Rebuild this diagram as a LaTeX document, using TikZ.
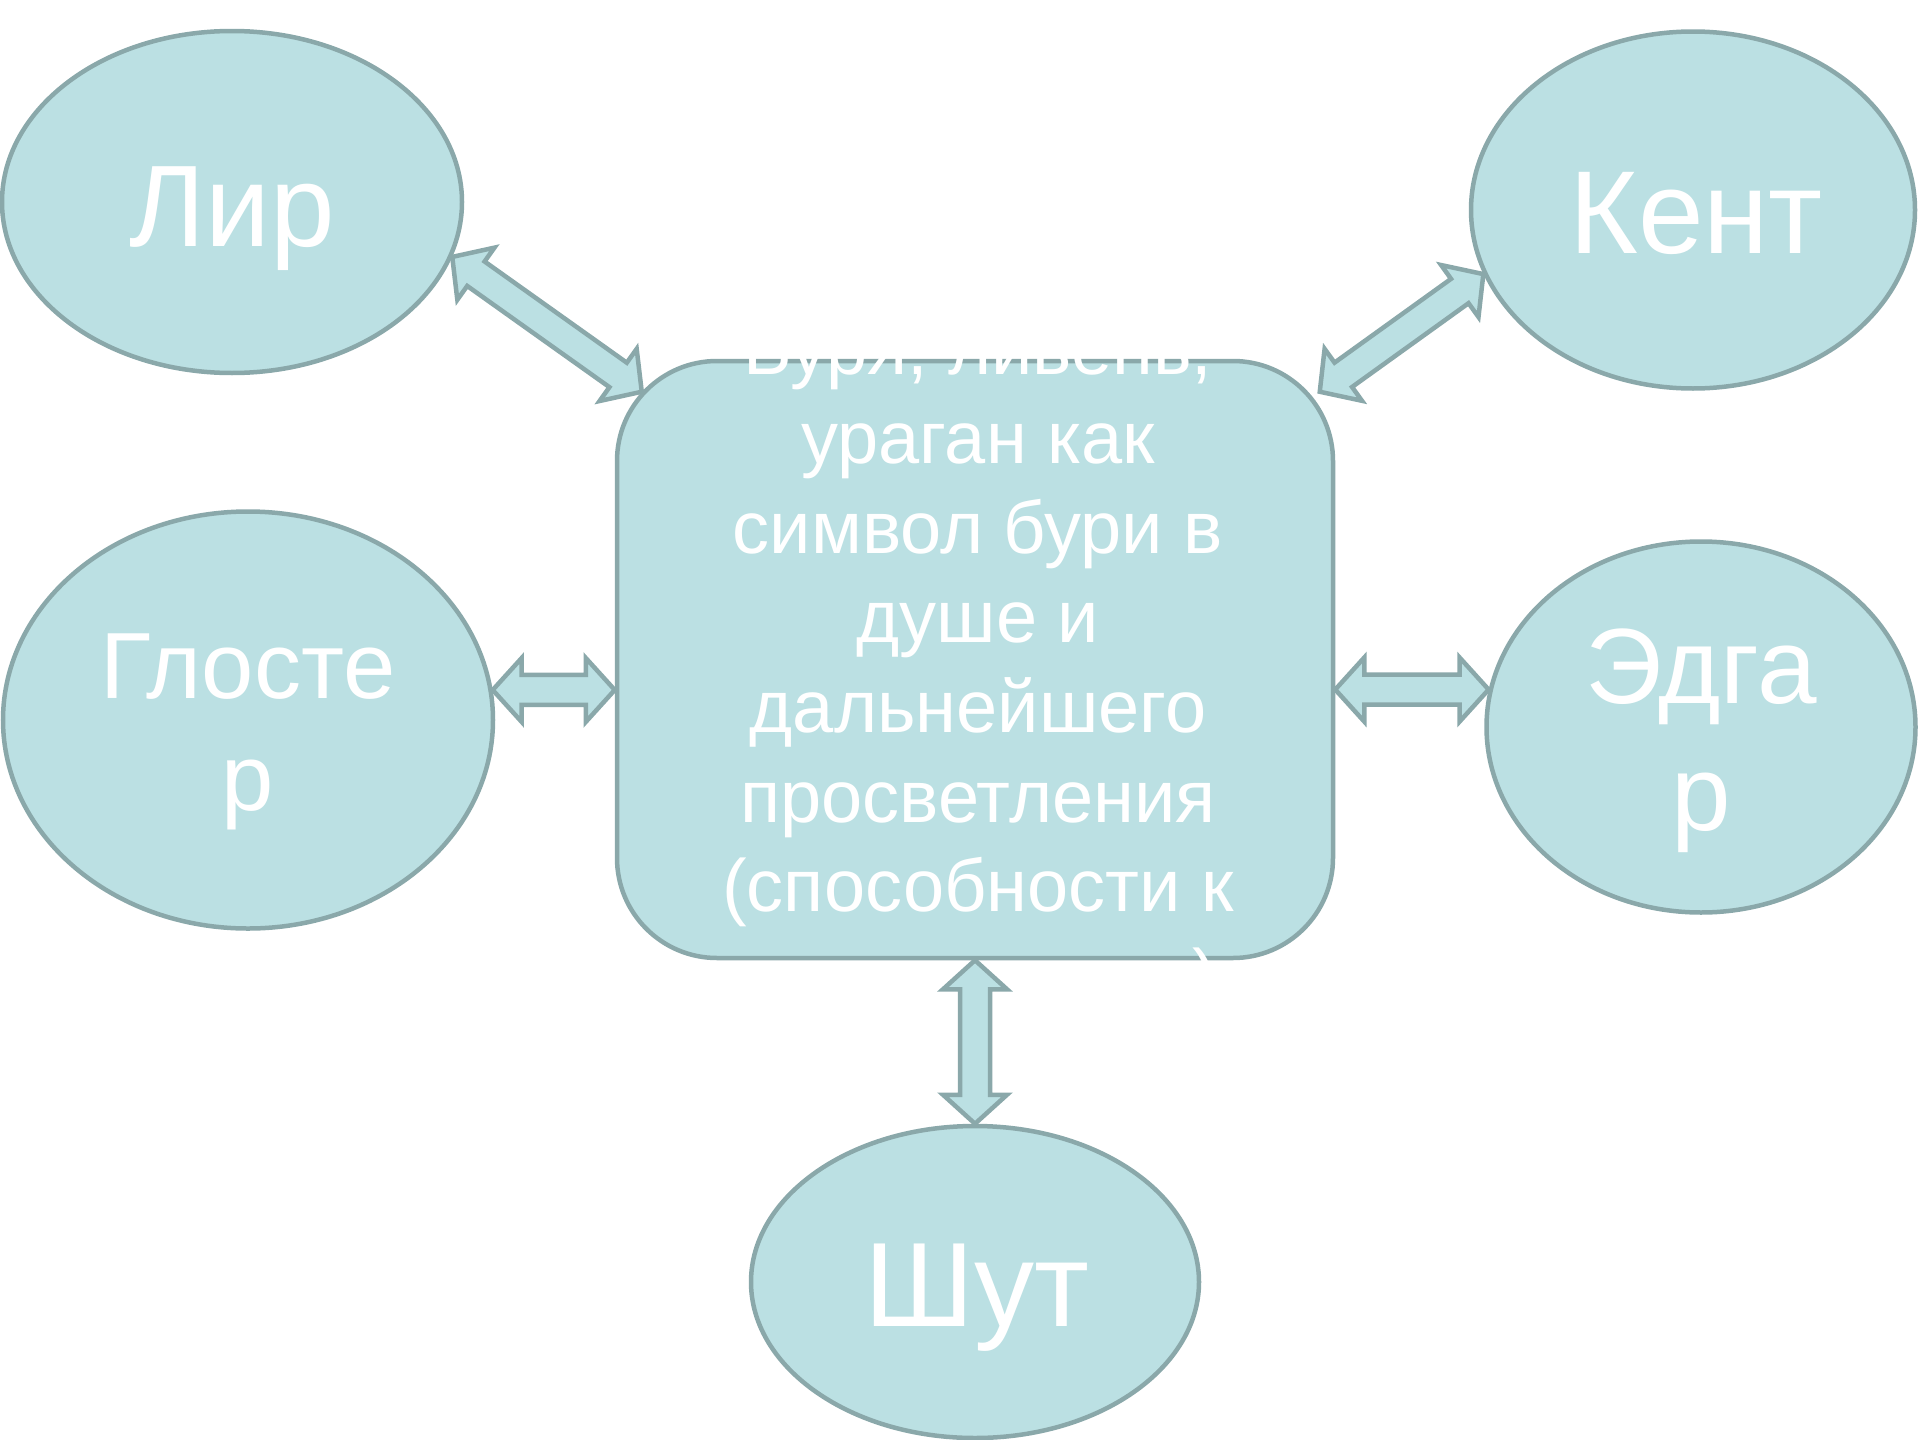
\documentclass[tikz,border=0pt]{standalone}
\usepackage{fontspec}
\setmainfont{Liberation Sans}
\usetikzlibrary{shapes.geometric,calc}
\definecolor{nodefill}{HTML}{BBE0E3}
\definecolor{nodeline}{HTML}{8AA8AA}
\tikzset{
  oval/.style={ellipse, draw=nodeline, fill=nodefill, line width=4.5pt, inner sep=0pt},
  centrebox/.style={rectangle, rounded corners=100pt, draw=nodeline, fill=nodefill, line width=4.5pt, inner sep=0pt},
  barrow/.style={draw=nodeline, fill=nodefill, line width=4.5pt, line join=miter},
  lbl/.style={text=white, inner sep=0pt, anchor=base, align=center},
}
\newcommand\dblarrow[2]{%
  \coordinate (da1) at ($(#1)!29pt!(#2)$);
  \coordinate (da2) at ($(#2)!29pt!(#1)$);
  \draw[barrow] (#1) -- ($(da1)!32pt!90:(#2)$) -- ($(da1)!15pt!90:(#2)$)
    -- ($(da2)!15pt!-90:(#1)$) -- ($(da2)!32pt!-90:(#1)$) -- (#2)
    -- ($(da2)!32pt!90:(#1)$) -- ($(da2)!15pt!90:(#1)$)
    -- ($(da1)!15pt!-90:(#2)$) -- ($(da1)!32pt!-90:(#2)$) -- cycle;
}
\begin{document}
\begin{tikzpicture}[x=1pt,y=-1pt]
\useasboundingbox (0,0) rectangle (1920,1440);
% ovals
\node[oval, minimum width=460pt, minimum height=342pt] (lir) at (232,202) {};
\node[oval, minimum width=444pt, minimum height=357pt] (kent) at (1693,210) {};
\node[oval, minimum width=490pt, minimum height=417pt] (glo) at (248,720) {};
\node[oval, minimum width=429pt, minimum height=371pt] (edg) at (1701,727) {};
\node[oval, minimum width=448pt, minimum height=312pt] (shut) at (975,1282) {};
% centre box
\node[centrebox, minimum width=716pt, minimum height=597pt] (box) at (975,659.5) {};
% texts (base anchor = baseline of the last line)
\node[lbl, font=\fontsize{116}{139}\selectfont] (tlir) at (232,246) {Лир};
\node[lbl, font=\fontsize{118}{141}\selectfont] (tkent) at (1696,253.5) {Кент};
\node[lbl, font=\fontsize{120}{144}\selectfont] (tshut) at (977,1326) {Шут};
\node[lbl, font=\fontsize{94}{112.6}\selectfont] (tglo) at (248,810.6) {Глосте\\р};
\node[lbl, font=\fontsize{107}{127}\selectfont] (tedg) at (1701,830) {Эдга\\р};
\node[lbl, font=\fontsize{74}{89.6}\selectfont] (tbox) at (978,1001.2) {Буря, ливень,\\ураган как\\символ бури в\\душе и\\дальнейшего\\просветления\\(способности к\\состраданию)};
% connector end points
\coordinate (lirA) at (lir.-14);
\coordinate (lirB) at ($(box.north west)+(27,33)$);
\coordinate (kentA) at (kent.197);
\coordinate (kentB) at ($(box.north east)+(-15.5,33)$);
\coordinate (gloA) at (glo.7);
\coordinate (gloB) at (glo.7 -| box.west);
\coordinate (edgA) at (edg.170);
\coordinate (edgB) at (edg.170 -| box.east);
\coordinate (shutA) at (box.south);
\coordinate (shutB) at (shut.north);
\dblarrow{lirA}{lirB}
\dblarrow{kentA}{kentB}
\dblarrow{gloA}{gloB}
\dblarrow{edgB}{edgA}
\dblarrow{shutA}{shutB}
\end{tikzpicture}
\end{document}
